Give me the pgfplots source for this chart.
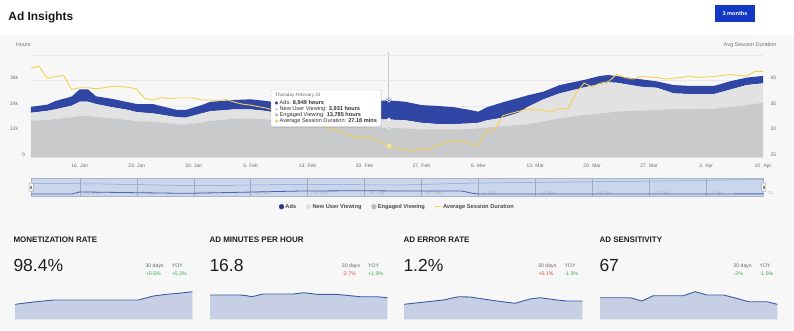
\documentclass[border=0pt]{standalone}
\usepackage{pgfplots}
\pgfplotsset{compat=1.18}
\usepackage{pgfplotstable}
\usepackage{fontspec}
\setmainfont{Liberation Sans}
\newfontfamily\sym{DejaVu Sans}
\newcommand\fs[1]{\fontsize{#1}{#1}\selectfont}
\definecolor{adsblue}{RGB}{48,70,165}
\definecolor{newgray}{RGB}{226,226,226}
\definecolor{enggray}{RGB}{201,202,204}
\definecolor{ylw}{RGB}{246,208,84}
\definecolor{pagebg}{RGB}{247,247,247}
\definecolor{btn}{RGB}{18,56,196}
\definecolor{txtgray}{RGB}{110,110,110}
\definecolor{navfill}{RGB}{201,214,235}
\definecolor{navline}{RGB}{70,100,175}
\definecolor{spfill}{RGB}{199,207,228}
\definecolor{spline}{RGB}{61,91,169}
\definecolor{upgreen}{RGB}{56,168,82}
\definecolor{downred}{RGB}{232,62,62}

\pgfplotstableread{
d E N A
0 17.2 3.7 2.8
2 17.6 4.2 2.9
3 18.0 4.5 3.9
5 18.8 5.4 4.3
6 19.4 6.7 5.8
7 19.5 6.6 5.8
8 19.0 6.0 3.6
10 18.3 5.2 3.9
12 17.5 4.7 3.6
13 17.0 4.2 3.8
15 16.7 3.9 4.4
16 16.3 3.7 4.0
18 15.5 3.3 3.4
19 15.4 3.2 3.6
21 16.3 4.3 3.9
22 17.1 4.5 4.4
24 17.8 4.4 4.4
25 18.1 4.4 4.4
27 18.3 4.2 4.7
29 17.8 3.9 4.7
30 17.5 3.4 4.9
33 16.5 3.5 5.5
36 15.6 3.7 6.5
39 14.8 4.0 7.4
42 14.1 3.9 8.5
44 13.785 3.931 8.949
46 13.6 3.8 8.7
48 13.1 3.1 8.3
50 13.1 2.5 8.5
52 13.1 2.5 7.9
54 13.3 2.6 6.3
55 13.6 2.6 5.2
56 14.0 3.3 6.1
58 14.7 3.9 7.2
60 15.2 5.8 6.9
61 15.5 8.0 5.5
63 16.8 10.4 3.6
65 18.3 11.7 3.9
68 19.9 12.9 3.5
70 20.6 13.8 3.8
71 21.0 14.2 3.4
72 21.5 13.5 3.1
75 21.9 11.2 3.5
77 22.2 10.4 3.0
79 22.6 7.4 3.9
81 22.6 7.1 3.8
84 22.8 6.9 3.8
86 23.6 8.2 3.9
88 24.5 9.4 3.5
90 25.6 9.1 3.5
}\stackdata

\pgfplotstableread{
d r
0 42.4
1 42.8
2 40.4
3 40.8
4 41.0
5 38.3
6 38.6
7 38.6
8 38.4
9 38.6
10 38.9
11 38.8
12 38.7
13 38.3
14 36.5
15 36.2
16 36.7
17 36.5
18 36.6
19 36.6
20 36.6
21 36.2
22 36.2
23 36.1
24 36.3
25 35.8
26 35.4
27 35.2
28 34.9
29 34.6
30 34.1
31 33.6
32 33.0
33 32.4
34 31.8
35 31.2
36 31.0
37 30.5
38 30.0
39 29.5
40 28.9
41 28.8
42 28.7
43 28.0
44 27.18
45 26.8
46 26.5
47 26.3
48 26.8
49 26.6
50 27.4
51 27.8
52 28.2
53 28.2
54 27.6
55 27.4
56 30.2
57 30.3
58 33.1
59 33.6
60 34.0
61 34.4
62 34.3
63 34.2
64 33.8
65 34.6
66 34.4
67 37.5
68 39.5
69 38.8
70 39.5
71 39.8
72 41.2
73 40.6
74 40.3
75 40.8
76 40.7
77 40.6
78 40.3
79 40.5
80 40.6
81 40.9
82 40.6
83 40.7
84 40.8
85 41.0
86 41.2
87 41.0
88 40.9
89 41.8
90 41.8
}\avgdata

\pgfplotstableread{
d v
0 0.72
8.5 0.68
20.8 0.58
33 0.66
45.4 0.62
53.6 0.72
60 0.76
70 0.81
80 0.86
90 0.94
}\navup

\pgfplotstableread{
d v
0 0.11
5 0.11
6 0.23
12.5 0.19
19 0.15
25.7 0.21
33 0.28
41.3 0.30
45.4 0.28
53 0.28
54.3 0.15
55.2 0.11
90 0.12
}\navlow

\pgfplotstableread{
x y
0 15.0
3 17.2
6.5 19.3
10 19.3
15 19.3
20.9 19.3
23.4 23.3
25.7 25.0
28 26.2
30 27.6
}\spA
\pgfplotstableread{
x y
0 24.3
5.1 24.3
6.2 23.6
7.1 22.6
9.0 25.3
14.1 25.3
15.8 26.6
18.1 25.0
21.4 25.0
23.7 23.6
25.4 22.6
28.2 22.6
30 21.6
}\spB
\pgfplotstableread{
x y
0 15.0
6.6 19.3
9.2 22.6
11.1 22.3
15.6 18.3
18.7 16.0
21.2 20.3
22.9 21.6
25.7 19.3
27.4 18.3
30 18.3
}\spC
\pgfplotstableread{
x y
0 21.6
5.1 21.6
7.1 18.3
9.0 23.6
14.1 23.6
16.1 27.6
18.1 24.3
20.9 24.3
23.1 21.0
25.1 17.6
28.2 17.6
30 15.0
}\spD

\pgfplotsset{
  mainframe/.style={at={(31pt,-157.3pt)}, anchor=south west, scale only axis,
    width=732pt, height=102.3pt, xmin=0, xmax=90},
  spark/.style={anchor=south west, scale only axis, height=30pt,
    xmin=0, xmax=30, ymin=0, ymax=30, hide axis},
}

\begin{document}
\begin{tikzpicture}
\useasboundingbox (0pt,0pt) rectangle (794pt,-330pt);
\fill[white] (0pt,0pt) rectangle (794pt,-35pt);
\fill[pagebg] (0pt,-35pt) rectangle (794pt,-330pt);

\begin{scope}[x=1pt,y=-1pt]
 \node[anchor=base west, font=\bfseries\fs{11.9}, text=black!90, inner sep=0] at (8.3,20) {Ad Insights};
 \fill[btn] (715,5) rectangle (755,21.7);
 \node[font=\bfseries\fs{5.6}, text=white, inner sep=0] at (735,13.4) {3 months};
 \node[anchor=base west, font=\fs{5.5}, text=black!55, inner sep=0] at (15.7,46.5) {Hours};
 \node[anchor=base east, font=\fs{5.5}, text=black!55, inner sep=0] at (776.7,46.5) {Avg Session Duration};
\end{scope}

% crosshair
\begin{axis}[mainframe, ymin=0, ymax=48, hide axis, clip=false]
\addplot[black!22, line width=0.6pt] coordinates {(43.9,0) (43.9,49.5)};
\end{axis}

% main stacked areas
\begin{axis}[mainframe, ymin=0, ymax=48,
  stack plots=y,
  axis line style={draw=none}, major tick length=0pt,
  xtick={6,13,20,27,34,41,48,55,62,69,76,83,90},
  xticklabels={16. Jan,23. Jan,30. Jan,6. Feb,13. Feb,20. Feb,27. Feb,6. Mar,13. Mar,20. Mar,27. Mar,3. Apr,10. Apr},
  ytick={0,12,24,36,48},
  yticklabels={0,12k\rule{6.7pt}{0pt},24k\rule{6.7pt}{0pt},36k\rule{6.7pt}{0pt},},
  ymajorgrids, grid style={draw=black!9, line width=0.5pt},
  tick label style={font=\fs{5}, text=txtgray},
  yticklabel style={xshift=-2.6pt, yshift=2.7pt},
  xticklabel style={yshift=-3pt},
  /pgf/number format/assume math mode=true,
  legend style={at={(0.5,-0.483)}, anchor=center, draw=none, fill=none, legend columns=4,
    font=\bfseries\fs{5.7}, text=black!70,
    nodes={inner sep=1.3pt},
    /tikz/every even column/.append style={column sep=8.5pt}},
  legend cell align=left,
]
\addplot[fill=enggray, draw=none, forget plot] table[x=d,y=E]{\stackdata} \closedcycle;
\addplot[fill=newgray, draw=none, forget plot] table[x=d,y=N]{\stackdata} \closedcycle;
\addplot[fill=adsblue, draw=none, forget plot] table[x=d,y=A]{\stackdata} \closedcycle;
\addlegendimage{legend image code/.code={\fill[adsblue!80!black] (2.4pt,0pt) circle (2.4pt);}}
\addlegendimage{legend image code/.code={\fill[black!12] (2.4pt,0pt) circle (2.4pt);}}
\addlegendimage{legend image code/.code={\fill[black!28] (2.4pt,0pt) circle (2.4pt);}}
\addlegendimage{legend image code/.code={\draw[ylw, line width=1pt] (0pt,0pt) -- (6pt,0pt);}}
\legend{Ads, New User Viewing, Engaged Viewing, Average Session Duration}
\end{axis}

% right axis + average session duration
\begin{axis}[mainframe, ymin=25, ymax=45,
  axis x line=none, axis y line*=right, axis line style={draw=none}, major tick length=0pt,
  ytick={25,30,35,40},
  tick label style={font=\fs{5}, text=txtgray},
  yticklabel style={xshift=4pt, yshift=2.7pt},
  /pgf/number format/assume math mode=true]
\addplot[ylw, line width=0.9pt] table[x=d,y=r]{\avgdata};
\addplot[only marks, mark=*, color=ylw, mark size=3.8pt, fill opacity=0.3, draw opacity=0] coordinates {(44,27.18)};
\addplot[only marks, mark=*, color=ylw, mark size=1.8pt, mark options={fill=ylw, draw=white, line width=0.4pt}] coordinates {(44,27.18)};
\end{axis}

% hover markers
\begin{axis}[mainframe, ymin=0, ymax=48, hide axis, clip=false]
\addplot[only marks, mark=*, color=adsblue, mark size=3.3pt, fill opacity=0.25, draw opacity=0] coordinates {(44,26.665)};
\addplot[only marks, mark=*, color=adsblue, mark size=1.7pt, mark options={fill=adsblue, draw=white, line width=0.5pt}] coordinates {(44,26.665)};
\addplot[only marks, mark=*, color=black!15, mark size=1.7pt, mark options={fill=black!15, draw=white, line width=0.5pt}] coordinates {(44,17.716)};
\addplot[only marks, mark=*, color=black!30, mark size=1.7pt, mark options={fill=black!30, draw=white, line width=0.5pt}] coordinates {(44,13.785)};
\end{axis}

% tooltip
\begin{scope}[x=1pt,y=-1pt]
 \fill[black, opacity=0.07] (272.2,91.2) rectangle (382.4,127.8);
 \draw[black!22, fill=white, rounded corners=1pt, line width=0.4pt] (271,90) rectangle (381,126.5);
 \node[anchor=base west, font=\fs{4.6}, text=black!60, inner sep=0] at (275,96) {Thursday February 23};
 \node[anchor=base west, inner sep=0, font=\sym\fs{4}, text=adsblue] at (274.6,104) {●};
 \node[anchor=base west, inner sep=0, font=\fs{5.6}, text=black!80] at (279.5,104) {Ads: \textbf{8,949 hours}};
 \node[anchor=base west, inner sep=0, font=\sym\fs{4}, text=black!15] at (274.6,110) {●};
 \node[anchor=base west, inner sep=0, font=\fs{5.6}, text=black!80] at (279.5,110) {New User Viewing: \textbf{3,931 hours}};
 \node[anchor=base west, inner sep=0, font=\sym\fs{4}, text=black!30] at (274.6,116) {●};
 \node[anchor=base west, inner sep=0, font=\fs{5.6}, text=black!80] at (279.5,116) {Engaged Viewing: \textbf{13,785 hours}};
 \node[anchor=base west, inner sep=0, font=\sym\fs{4}, text=ylw] at (274.6,122) {●};
 \node[anchor=base west, inner sep=0, font=\fs{5.6}, text=black!80] at (279.5,122) {Average Session Duration: \textbf{27.18 mins}};
\end{scope}

% navigator
\begin{axis}[at={(31pt,-196pt)}, anchor=south west, scale only axis, width=732pt, height=17.7pt,
  xmin=0, xmax=90, ymin=0, ymax=1,
  axis background/.style={fill=navfill},
  axis line style={draw=navfill!85!black, line width=0.4pt},
  ytick=\empty, major tick length=0pt,
  xtick={6,13,20,27,34,41,48,55,62,69,76,83,90},
  xticklabels={16. Jan,23. Jan,30. Jan,6. Feb,13. Feb,20. Feb,27. Feb,6. Mar,13. Mar,20. Mar,27. Mar,3. Apr,10\ldots},
  xmajorgrids, grid style={draw=navfill!80!black, line width=0.3pt},
  xticklabel style={font=\fs{4.3}, text=black!30, anchor=base west, xshift=1.5pt, yshift=1.2pt},
  clip=false]
\addplot[navline!45!navfill, line width=0.5pt] table[x=d,y=v]{\navup};
\addplot[navline, line width=0.8pt] table[x=d,y=v]{\navlow};
\end{axis}
\begin{scope}[x=1pt,y=-1pt]
 \draw[black!45, fill=black!5, rounded corners=0.8pt, line width=0.4pt] (29,183) rectangle (33.2,191.5);
 \draw[black!45, line width=0.3pt] (30.6,185.5) -- (30.6,189) (31.6,185.5) -- (31.6,189);
 \draw[black!45, fill=black!5, rounded corners=0.8pt, line width=0.4pt] (761.5,183) rectangle (765.7,191.5);
 \draw[black!45, line width=0.3pt] (763.1,185.5) -- (763.1,189) (764.1,185.5) -- (764.1,189);
\end{scope}

% KPI texts
\begin{scope}[x=1pt,y=-1pt]
 \foreach \xx/\ttl/\val/\xa/\ca/\cb/\cca/\ccb in {
   13.3/MONETIZATION RATE/98.4\%/145.3/+0.5\%/+5.3\%/upgreen/upgreen,
   209.3/AD MINUTES PER HOUR/16.8/341.7/-2.7\%/+1.5\%/downred/upgreen,
   403.3/AD ERROR RATE/1.2\%/538.0/+0.1\%/-1.3\%/downred/upgreen,
   599.3/AD SENSITIVITY/67/733.2/-2\%/-1.5\%/upgreen/upgreen}{
   \node[anchor=base west, inner sep=0, font=\bfseries\fs{8}, text=black!88] at (\xx,242.5) {\ttl};
   \node[anchor=base west, inner sep=0, font=\fs{17.5}, text=black!88] at (\xx,271.7) {\val};
   \node[anchor=base west, inner sep=0, font=\fs{5.2}, text=black!60] at (\xa,267.5) {30 days};
   \node[anchor=base west, inner sep=0, font=\fs{5.2}, text=black!60] at (\xa+26.3,267.5) {YOY};
   \node[anchor=base west, inner sep=0, font=\fs{5.2}, text=\cca] at (\xa+0.3,275.5) {\ca};
   \node[anchor=base west, inner sep=0, font=\fs{5.2}, text=\ccb] at (\xa+26.3,275.5) {\cb};
 }
\end{scope}

% sparklines
\begin{axis}[spark, at={(15pt,-319.3pt)}, width=177.3pt]
\addplot[fill=spfill, draw=none] table[x=x,y=y]{\spA} \closedcycle;
\addplot[spline, line width=0.9pt] table[x=x,y=y]{\spA};
\end{axis}
\begin{axis}[spark, at={(210pt,-319.3pt)}, width=177.3pt]
\addplot[fill=spfill, draw=none] table[x=x,y=y]{\spB} \closedcycle;
\addplot[spline, line width=0.9pt] table[x=x,y=y]{\spB};
\end{axis}
\begin{axis}[spark, at={(404pt,-319.3pt)}, width=178.3pt]
\addplot[fill=spfill, draw=none] table[x=x,y=y]{\spC} \closedcycle;
\addplot[spline, line width=0.9pt] table[x=x,y=y]{\spC};
\end{axis}
\begin{axis}[spark, at={(600pt,-319.3pt)}, width=177.3pt]
\addplot[fill=spfill, draw=none] table[x=x,y=y]{\spD} \closedcycle;
\addplot[spline, line width=0.9pt] table[x=x,y=y]{\spD};
\end{axis}
\end{tikzpicture}
\end{document}
